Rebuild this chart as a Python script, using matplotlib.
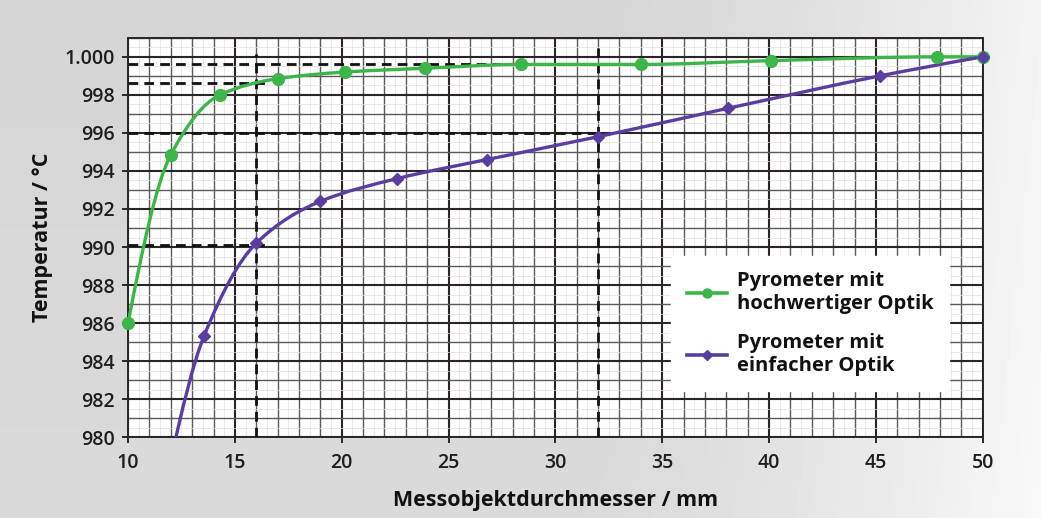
import numpy as np
import matplotlib.pyplot as plt
from matplotlib.path import Path
from matplotlib.patches import PathPatch
from matplotlib.lines import Line2D
from matplotlib.ticker import MultipleLocator, FuncFormatter

plt.rcParams['font.family'] = ['Open Sans', 'DejaVu Sans']

# Messwerte
x_hoch = [10, 12.0, 14.3, 17.0, 20.15, 23.9, 28.4, 34.0, 40.1, 47.85, 50]
t_hoch = [986.0, 994.85, 998.0, 998.85, 999.2, 999.4, 999.6, 999.6, 999.8, 1000.0, 1000.0]

x_einf = [12.0, 13.55, 16.0, 19.0, 22.6, 26.8, 32.0, 38.1, 45.2, 50]
t_einf = [978.8, 985.3, 990.2, 992.4, 993.6, 994.6, 995.8, 997.3, 999.0, 1000.0]

label_hoch = "Pyrometer mit\nhochwertiger Optik"
label_einf = "Pyrometer mit\neinfacher Optik"

# Ablesehilfen (gestrichelt)
ablese_x = [16.0, 32.0]
ablese_t_16 = [998.65, 990.1]
ablese_t_32 = [999.6, 996.0]

col_hoch = '#3db54a'
col_einf = '#5b3d9f'


def glatte_kurve(xs, ys):
    # monotone kubische Bezier-Kurve durch die Punkte
    xs = np.asarray(xs, float)
    ys = np.asarray(ys, float)
    h = np.diff(xs)
    d = np.diff(ys) / h
    n = len(xs)
    m = np.zeros(n)
    for i in range(1, n - 1):
        if d[i - 1] * d[i] > 0:
            w1 = 2 * h[i] + h[i - 1]
            w2 = h[i] + 2 * h[i - 1]
            m[i] = (w1 + w2) / (w1 / d[i - 1] + w2 / d[i])

    def rand(h0, h1, d0, d1):
        s = ((2 * h0 + h1) * d0 - h0 * d1) / (h0 + h1)
        if s * d0 <= 0:
            return 0.0
        if d0 * d1 <= 0 and abs(s) > 3 * abs(d0):
            return 3 * d0
        return s

    m[0] = rand(h[0], h[1], d[0], d[1])
    m[-1] = rand(h[-1], h[-2], d[-1], d[-2])
    verts = [(xs[0], ys[0])]
    codes = [Path.MOVETO]
    for i in range(n - 1):
        verts += [(xs[i] + h[i] / 3, ys[i] + m[i] * h[i] / 3),
                  (xs[i + 1] - h[i] / 3, ys[i + 1] - m[i + 1] * h[i] / 3),
                  (xs[i + 1], ys[i + 1])]
        codes += [Path.CURVE4] * 3
    return Path(verts, codes)


fig = plt.figure(figsize=(10.41, 5.18), dpi=100)

# grauer Hintergrund mit Verlauf
bg = fig.add_axes([0, 0, 1, 1], zorder=-10)
gx = np.linspace(0, 1, 300)
gy = np.linspace(0, 1, 150)
GX, GY = np.meshgrid(gx, gy)
val = 0.835 + 0.12 * np.clip((GX - 0.55) / 0.45, 0, 1) ** 1.5 + 0.02 * GY
bg.imshow(val, cmap='gray', vmin=0, vmax=1, aspect='auto', extent=[0, 1, 0, 1])
bg.axis('off')

ax = fig.add_axes([0.123, 0.156, 0.821, 0.771])
ax.set_facecolor('white')
ax.set_xlim(10, 50)
ax.set_ylim(980, 1001)

# Millimeterpapier-Raster
for v in np.arange(10, 50.01, 0.5):
    if v % 5 == 0:
        lw, c = 1.5, '#2b2527'
    elif v % 1 == 0:
        lw, c = 1.0, '#5e5a5b'
    else:
        lw, c = 0.5, '#e2e0e1'
    ax.axvline(v, color=c, lw=lw, zorder=1)
for v in np.arange(980, 1001.01, 0.5):
    if v % 2 == 0:
        lw, c = 1.5, '#2b2527'
    elif v % 1 == 0:
        lw, c = 1.0, '#5e5a5b'
    else:
        lw, c = 0.5, '#e2e0e1'
    ax.axhline(v, color=c, lw=lw, zorder=1)

for s in ax.spines.values():
    s.set_color('#2b2527')
    s.set_linewidth(1.4)

ax.xaxis.set_major_locator(MultipleLocator(5))
ax.yaxis.set_major_locator(MultipleLocator(2))
ax.yaxis.set_major_formatter(FuncFormatter(
    lambda v, p: '1.000' if v >= 1000 else f'{v:.0f}'))
ax.tick_params(axis='both', length=4.5, width=1.4, color='#2b2527',
               labelsize=14, labelcolor='#1e1e1e')
ax.tick_params(axis='x', pad=7)
ax.tick_params(axis='y', pad=5)
for lab in ax.get_xticklabels() + ax.get_yticklabels():
    lab.set_fontweight('semibold')

# gestrichelte Ablesehilfen
dash = dict(color='#111111', lw=2.0, ls=(0, (3.5, 2.2)), zorder=3)
ax.plot([ablese_x[0], ablese_x[0]], [980, 1000.15], **dash)
ax.plot([ablese_x[1], ablese_x[1]], [980, 1000.45], **dash)
ax.plot([10, ablese_x[0] + 0.5], [ablese_t_16[0]] * 2, **dash)
ax.plot([10, ablese_x[0] + 0.5], [ablese_t_16[1]] * 2, **dash)
ax.plot([10, ablese_x[1] + 0.5], [ablese_t_32[0]] * 2, **dash)
ax.plot([10, ablese_x[1]], [ablese_t_32[1]] * 2, **dash)

# Kurven
for xs, ys, col, mk, ms in [(x_hoch, t_hoch, col_hoch, 'o', 8.5),
                            (x_einf, t_einf, col_einf, 'D', 6.5)]:
    patch = PathPatch(glatte_kurve(xs, ys), facecolor='none', edgecolor=col,
                      lw=2.4, zorder=4, transform=ax.transData)
    ax.add_patch(patch)
    xs_a = np.asarray(xs)
    ys_a = np.asarray(ys)
    sel = ys_a >= 980
    ax.plot(xs_a[sel], ys_a[sel], ls='none', marker=mk, ms=ms, color=col,
            zorder=5, clip_on=False)

handles = [Line2D([], [], color=col_hoch, lw=2.6, marker='o', ms=6.5),
           Line2D([], [], color=col_einf, lw=2.6, marker='D', ms=5)]
leg = ax.legend(handles, [label_hoch, label_einf], loc='upper left',
                bbox_to_anchor=(0.624, 0.48), frameon=True, fancybox=False,
                framealpha=1, edgecolor='white', facecolor='white',
                handlelength=2.0, handletextpad=0.5, labelspacing=0.95,
                borderpad=0.75, prop={'weight': 'bold', 'size': 14.5})
leg.set_zorder(6)
for t in leg.get_texts():
    t.set_color('#111111')

ax.set_xlabel('Messobjektdurchmesser / mm', fontsize=15.5, fontweight='bold',
              color='#111111', labelpad=12)
ax.set_ylabel('Temperatur / °C', fontsize=15.5, fontweight='bold',
              color='#111111', labelpad=8)

fig.savefig('out.png', dpi=100)
